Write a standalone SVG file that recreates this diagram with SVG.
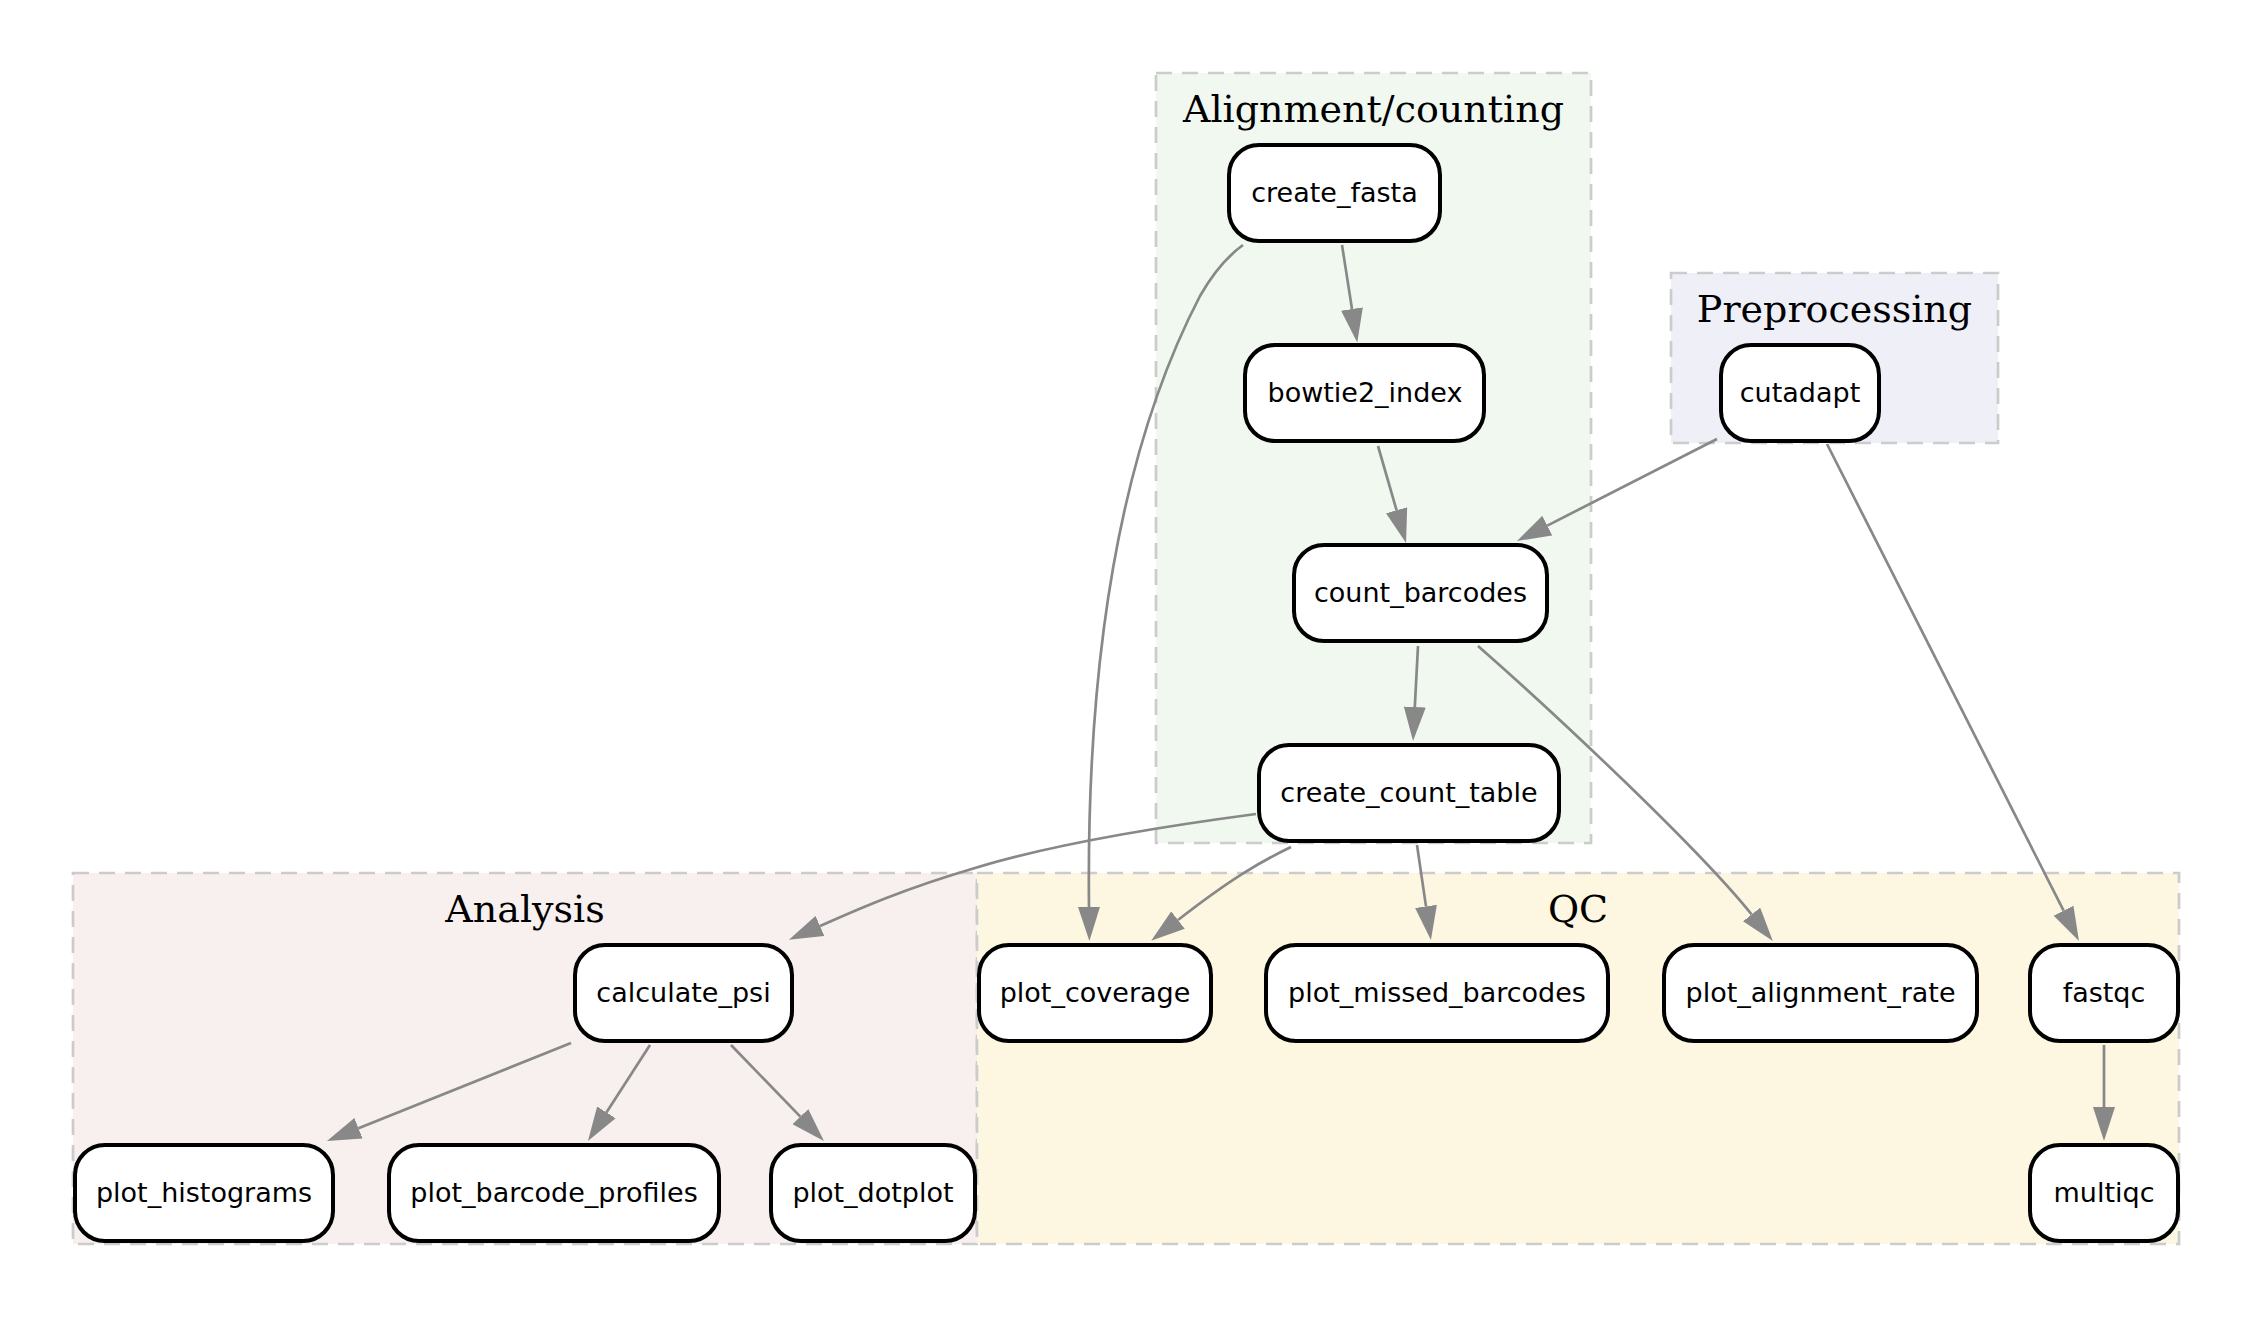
<svg xmlns="http://www.w3.org/2000/svg" width="2253" height="1317" viewBox="0 0 2253 1317">
<style>
.cl{stroke:#cccccc;stroke-width:2.7;stroke-dasharray:16,10}
.ct{font-family:"DejaVu Serif",serif;font-size:38px;text-anchor:middle;fill:#000}
.nd rect{fill:#fff;stroke:#000;stroke-width:4}
.nd text{font-family:"DejaVu Sans",sans-serif;font-size:27px;text-anchor:middle;fill:#000}
.e path{fill:none;stroke:#888888;stroke-width:2.7;marker-end:url(#ah)}
</style>
<defs>
<marker id="ah" viewBox="0 0 34 22" refX="0" refY="11" markerWidth="34" markerHeight="22" markerUnits="userSpaceOnUse" orient="auto">
<path d="M0,0 L34,11 L0,22 z" fill="#888888"/>
</marker>
</defs>
<rect width="2253" height="1317" fill="#ffffff"/>
<g id="clusters">
<g id="cluster_alignment"><rect class="cl" x="1156" y="73" width="435" height="770" fill="#f0f8f0"/><text class="ct" x="1373.5" y="122">Alignment/counting</text></g>
<g id="cluster_preprocessing"><rect class="cl" x="1671" y="273" width="327" height="170" fill="#efeff8"/><text class="ct" x="1834.5" y="322">Preprocessing</text></g>
<g id="cluster_analysis"><rect class="cl" x="73" y="873" width="904" height="371" fill="#f8efef"/><text class="ct" x="525" y="922">Analysis</text></g>
<g id="cluster_qc"><rect class="cl" x="977" y="873" width="1202" height="371" fill="#fdf7e1"/><text class="ct" x="1578" y="922">QC</text></g>
</g>
<g id="edges" class="e">
<path d="M1342,245 L1352,309"/>
<path d="M1243,245 C1225,258 1212,275 1200,296 C1125,440 1086,640 1089,907"/>
<path d="M1378,446 L1396.6,510.3"/>
<path d="M1717,439 L1547.3,525.6"/>
<path d="M1827,444 L2063.6,910.7"/>
<path d="M1418,646 L1414.8,707"/>
<path d="M1478,646 C1560,718 1700,850 1751.6,914.5"/>
<path d="M1256,814 C1150,828 1050,845 975,868 C900,890 854,911 820,926"/>
<path d="M1291,847 C1260,862 1232,878 1178,920"/>
<path d="M1417,845 L1426,906.4"/>
<path d="M571,1043 L358.5,1128.3"/>
<path d="M650,1045 L606.4,1112.4"/>
<path d="M731,1045 L800.3,1116.6"/>
<path d="M2104,1045 L2104,1107"/>
</g>
<g id="create_fasta" class="nd"><rect x="1229" y="145" width="211" height="96" rx="30"/><text x="1334.5" y="202">create_fasta</text></g>
<g id="bowtie2_index" class="nd"><rect x="1245" y="345" width="239" height="96" rx="30"/><text x="1365" y="402">bowtie2_index</text></g>
<g id="count_barcodes" class="nd"><rect x="1294" y="545" width="253" height="96" rx="30"/><text x="1420.5" y="602">count_barcodes</text></g>
<g id="create_count_table" class="nd"><rect x="1259" y="745" width="300" height="96" rx="30"/><text x="1409" y="802">create_count_table</text></g>
<g id="cutadapt" class="nd"><rect x="1721" y="345" width="158" height="96" rx="30"/><text x="1800" y="402">cutadapt</text></g>
<g id="calculate_psi" class="nd"><rect x="575" y="945" width="217" height="96" rx="30"/><text x="683.5" y="1002">calculate_psi</text></g>
<g id="plot_histograms" class="nd"><rect x="75" y="1145" width="258" height="96" rx="30"/><text x="204" y="1202">plot_histograms</text></g>
<g id="plot_barcode_profiles" class="nd"><rect x="389" y="1145" width="330" height="96" rx="30"/><text x="554" y="1202">plot_barcode_profiles</text></g>
<g id="plot_dotplot" class="nd"><rect x="771" y="1145" width="204" height="96" rx="30"/><text x="873" y="1202">plot_dotplot</text></g>
<g id="plot_coverage" class="nd"><rect x="979" y="945" width="232" height="96" rx="30"/><text x="1095" y="1002">plot_coverage</text></g>
<g id="plot_missed_barcodes" class="nd"><rect x="1266" y="945" width="342" height="96" rx="30"/><text x="1437" y="1002">plot_missed_barcodes</text></g>
<g id="plot_alignment_rate" class="nd"><rect x="1664" y="945" width="313" height="96" rx="30"/><text x="1820.5" y="1002">plot_alignment_rate</text></g>
<g id="fastqc" class="nd"><rect x="2030" y="945" width="148" height="96" rx="30"/><text x="2104" y="1002">fastqc</text></g>
<g id="multiqc" class="nd"><rect x="2030" y="1145" width="148" height="96" rx="30"/><text x="2104" y="1202">multiqc</text></g>
</svg>
